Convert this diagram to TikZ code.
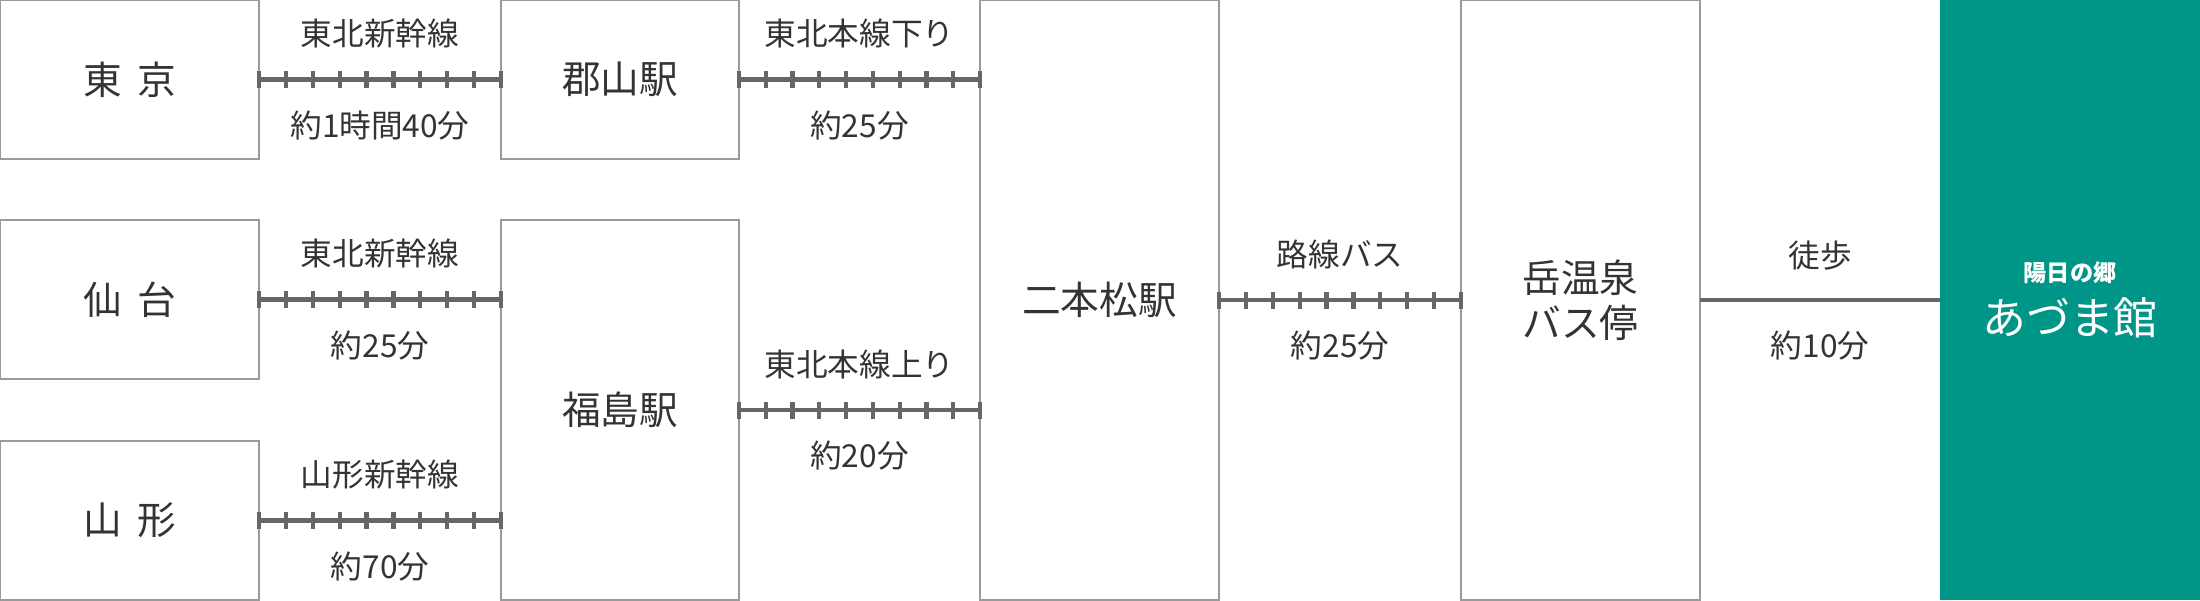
\documentclass[tikz,border=0pt]{standalone}
\usepackage{fontspec}
\setmainfont{Noto Sans CJK JP}
\usetikzlibrary{positioning}
\usetikzlibrary{calc}
\definecolor{boxgray}{HTML}{9A9A9A}
\definecolor{railgray}{HTML}{666666}
\definecolor{txtgray}{HTML}{333333}
\definecolor{azumagreen}{RGB}{0,150,135}
\tikzset{every picture/.style={line width=0.6pt},
  station/.style={draw=boxgray, text=txtgray, minimum width=2.39cm, inner sep=0pt, outer sep=0pt, align=center, font=\fontsize{11}{12.8}\selectfont},
  rail/.style={draw=railgray, line width=1.4pt},
  tie/.style={draw=railgray, line width=1.2pt},
  lbl/.style={text=txtgray, font=\fontsize{9}{11}\selectfont}}

% track from box #1 to box #2, line name above and time below
\newcommand{\railtrack}[4]{%
  \coordinate (ra) at (#1.east);
  \coordinate (rb) at (#1.east -| #2.west);
  \draw[rail] (ra) -- (rb);
  \foreach \k in {0,...,9}
    \draw[tie] ($(ra)!\k/9!(rb)$) +(0,0.085) -- +(0,-0.085);
  \node[lbl] at ($(ra)!0.5!(rb)+(0,0.46)$) {#3};
  \node[lbl] at ($(ra)!0.5!(rb)+(0,-0.46)$) {#4};
}

\begin{document}
\begin{tikzpicture}
\useasboundingbox (0,0) rectangle (22,-6);

\node (tokyo) [station, minimum width=2.59cm, minimum height=1.59cm, anchor=north west] at (0,0) {東\hspace{.4em}京};
\node (koriyama) [station, minimum width=2.38cm, minimum height=1.59cm, right=2.42cm of tokyo] {郡山駅};
\node (sendai) [station, minimum width=2.59cm, minimum height=1.59cm, anchor=north west] at (0,-2.20) {仙\hspace{.4em}台};
\node (yamagata) [station, minimum width=2.59cm, minimum height=1.59cm, anchor=south west] at (0,-6) {山\hspace{.4em}形};
\node (fukushima) [station, minimum width=2.38cm, minimum height=3.80cm, anchor=south west] at (5.01,-6) {福島駅};
\node (nihonmatsu) [station, minimum height=6cm, anchor=north west] at (9.80,0) {二本松駅};
\node (dake) [station, minimum height=6cm, right=2.42cm of nihonmatsu] {岳温泉\\バス停};
\node (azuma) [fill=azumagreen, text=white, minimum width=2.60cm, minimum height=6cm, inner sep=0pt, outer sep=0pt, align=center, right=2.40cm of dake]
  {{\fontsize{6.6}{8}\selectfont\bfseries 陽日の郷}\\[3pt]{\fontsize{12.5}{14}\selectfont あづま館}};

\railtrack{tokyo}{koriyama}{東北新幹線}{約1時間40分}
\railtrack{koriyama}{nihonmatsu}{東北本線下り}{約25分}
\railtrack{sendai}{fukushima}{東北新幹線}{約25分}
\railtrack{yamagata}{fukushima}{山形新幹線}{約70分}
\railtrack{fukushima}{nihonmatsu}{東北本線上り}{約20分}
\railtrack{nihonmatsu}{dake}{路線バス}{約25分}

\draw[rail] (dake.east) -- (azuma.west)
  node[midway, lbl, yshift=0.44cm] {徒歩}
  node[midway, lbl, yshift=-0.46cm] {約10分};
\end{tikzpicture}
\end{document}
